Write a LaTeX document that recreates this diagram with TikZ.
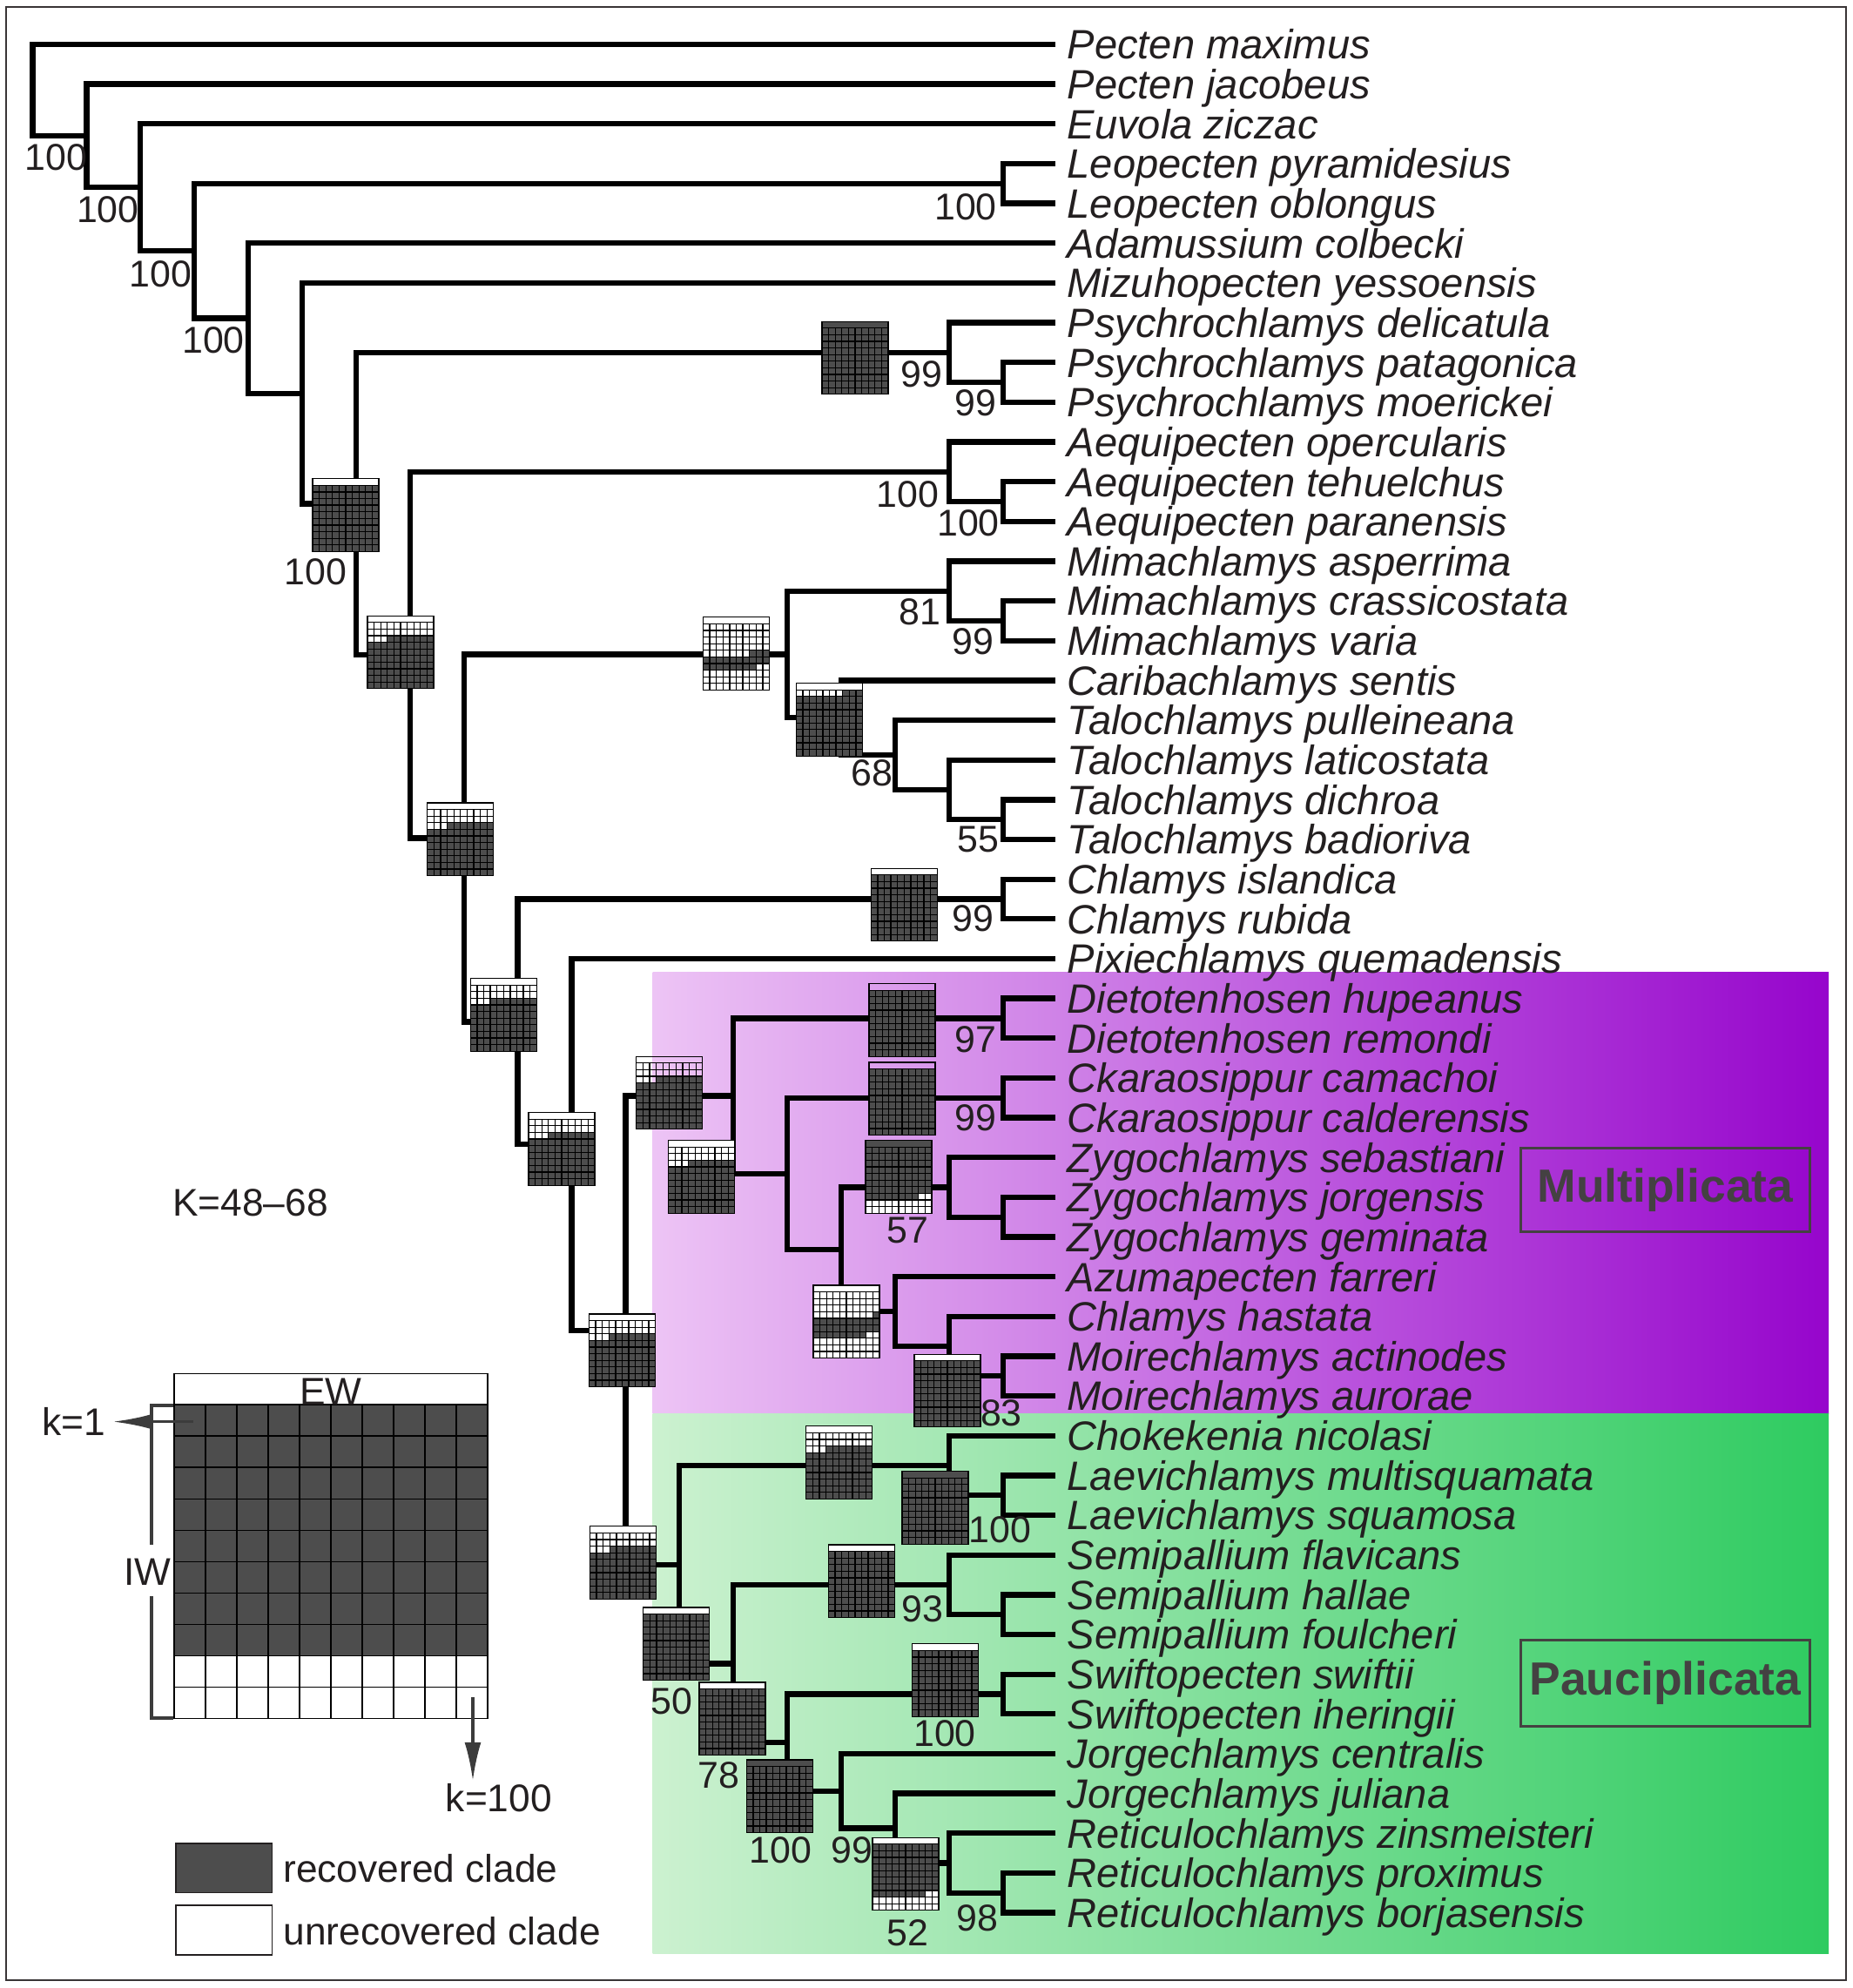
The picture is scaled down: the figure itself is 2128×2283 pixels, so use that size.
\documentclass[tikz,border=0pt]{standalone}
\usepackage{fontspec}
\setmainfont{Liberation Sans}
\usetikzlibrary{arrows.meta}
\definecolor{ink}{HTML}{231F20}
\definecolor{cladedark}{HTML}{4D4D4D}
\definecolor{legendgray}{HTML}{3C3C3C}
\definecolor{multilight}{HTML}{EDC4F5}
\definecolor{multideep}{HTML}{9605CC}
\definecolor{paucilight}{HTML}{CCF1D0}
\definecolor{paucideep}{HTML}{2ECB60}
\tikzset{
  branch/.style={draw=black,line width=1.8pt},
  taxon/.style={anchor=west,inner xsep=1.3mm,inner ysep=0pt,text height=9.6pt,text depth=0pt,text=ink,font=\fontsize{13.4}{13}\selectfont\itshape},
  support/.style={inner sep=0pt,text=ink,font=\fontsize{12.2}{12}\selectfont},
  gridline/.style={draw=black,line width=0.35pt},
  legendgrid/.style={draw=black,line width=0.4pt},
  legendtext/.style={inner sep=0pt,text=ink,font=\fontsize{12.6}{12}\selectfont},
  legendline/.style={draw=legendgray,line width=1.1pt},
  legendarrow/.style={draw=legendgray,fill=legendgray,line width=0.9pt},
  groupbox/.style={draw=ink!85,line width=0.8pt,inner sep=0pt,text=ink!85,minimum width=33.2mm,font=\fontsize{15.2}{15}\selectfont\bfseries},
  swatch/.style={draw=ink,line width=0.5pt,minimum width=11.06mm,minimum height=5.67mm,inner sep=0pt},
}
\newcommand{\cladegrid}[7]{%
  \coordinate (#1) at (#2,#3);
  \path[fill=#7] ({#2-38},{#3-34.2}) rectangle ({#2+38},{#3+41.8});
  \path[fill=#4] ({#2-38},{#3-41.8}) rectangle ({#2+38},{#3-34.2});
  \foreach \cellk in {#5,...,#6}{%
    \pgfmathtruncatemacro{\cellrow}{(\cellk-1)/10}%
    \pgfmathtruncatemacro{\cellcol}{\cellk-1-10*\cellrow}%
    \fill[cladedark] ({#2-38+7.6*\cellcol},{#3-34.2+7.6*\cellrow}) rectangle ++(7.6,7.6);
  }
  \foreach \gi in {1,...,9}{\draw[gridline] ({#2-38+7.6*\gi},{#3-34.2}) -- ++(0,76);}
  \foreach \gi in {1,...,9}{\draw[gridline] ({#2-38},{#3-34.2+7.6*\gi}) -- ++(76,0);}
  \draw[gridline] ({#2-38},{#3-34.2}) -- ++(76,0);
  \draw[gridline] ({#2-38},{#3-41.8}) rectangle ({#2+38},{#3+41.8});
}
\begin{document}
\begin{tikzpicture}[x=0.1mm,y=-0.1mm,>={Latex[length=4.4mm,width=1.7mm]},line join=miter]
\useasboundingbox (0,0) rectangle (2128,2283);
%%
\shade[left color=multilight,right color=multideep] (749.6,1116.4) rectangle (2100,1623);
\shade[left color=paucilight,right color=paucideep] (749.6,1623) rectangle (2100,2243);
\draw[draw=ink!90,line width=0.6pt] (7,8) rectangle (2120,2274);
%
\node[taxon] (t1) at (1212,51) {Pecten maximus};
\node[taxon] (t2) at (1212,96.65) {Pecten jacobeus};
\node[taxon] (t3) at (1212,142.3) {Euvola ziczac};
\node[taxon] (t4) at (1212,187.95) {Leopecten pyramidesius};
\node[taxon] (t5) at (1212,233.6) {Leopecten oblongus};
\node[taxon] (t6) at (1212,279.25) {Adamussium colbecki};
\node[taxon] (t7) at (1212,324.9) {Mizuhopecten yessoensis};
\node[taxon] (t8) at (1212,370.55) {Psychrochlamys delicatula};
\node[taxon] (t9) at (1212,416.2) {Psychrochlamys patagonica};
\node[taxon] (t10) at (1212,461.85) {Psychrochlamys moerickei};
\node[taxon] (t11) at (1212,507.5) {Aequipecten opercularis};
\node[taxon] (t12) at (1212,553.15) {Aequipecten tehuelchus};
\node[taxon] (t13) at (1212,598.8) {Aequipecten paranensis};
\node[taxon] (t14) at (1212,644.45) {Mimachlamys asperrima};
\node[taxon] (t15) at (1212,690.1) {Mimachlamys crassicostata};
\node[taxon] (t16) at (1212,735.75) {Mimachlamys varia};
\node[taxon] (t17) at (1212,781.4) {Caribachlamys sentis};
\node[taxon] (t18) at (1212,827.05) {Talochlamys pulleineana};
\node[taxon] (t19) at (1212,872.7) {Talochlamys laticostata};
\node[taxon] (t20) at (1212,918.35) {Talochlamys dichroa};
\node[taxon] (t21) at (1212,964) {Talochlamys badioriva};
\node[taxon] (t22) at (1212,1009.65) {Chlamys islandica};
\node[taxon] (t23) at (1212,1055.3) {Chlamys rubida};
\node[taxon] (t24) at (1212,1100.95) {Pixiechlamys quemadensis};
\node[taxon] (t25) at (1212,1146.6) {Dietotenhosen hupeanus};
\node[taxon] (t26) at (1212,1192.25) {Dietotenhosen remondi};
\node[taxon] (t27) at (1212,1237.9) {Ckaraosippur camachoi};
\node[taxon] (t28) at (1212,1283.55) {Ckaraosippur calderensis};
\node[taxon] (t29) at (1212,1329.2) {Zygochlamys sebastiani};
\node[taxon] (t30) at (1212,1374.85) {Zygochlamys jorgensis};
\node[taxon] (t31) at (1212,1420.5) {Zygochlamys geminata};
\node[taxon] (t32) at (1212,1466.15) {Azumapecten farreri};
\node[taxon] (t33) at (1212,1511.8) {Chlamys hastata};
\node[taxon] (t34) at (1212,1557.45) {Moirechlamys actinodes};
\node[taxon] (t35) at (1212,1603.1) {Moirechlamys aurorae};
\node[taxon] (t36) at (1212,1648.75) {Chokekenia nicolasi};
\node[taxon] (t37) at (1212,1694.4) {Laevichlamys multisquamata};
\node[taxon] (t38) at (1212,1740.05) {Laevichlamys squamosa};
\node[taxon] (t39) at (1212,1785.7) {Semipallium flavicans};
\node[taxon] (t40) at (1212,1831.35) {Semipallium hallae};
\node[taxon] (t41) at (1212,1877) {Semipallium foulcheri};
\node[taxon] (t42) at (1212,1922.65) {Swiftopecten swiftii};
\node[taxon] (t43) at (1212,1968.3) {Swiftopecten iheringii};
\node[taxon] (t44) at (1212,2013.95) {Jorgechlamys centralis};
\node[taxon] (t45) at (1212,2059.6) {Jorgechlamys juliana};
\node[taxon] (t46) at (1212,2105.25) {Reticulochlamys zinsmeisteri};
\node[taxon] (t47) at (1212,2150.9) {Reticulochlamys proximus};
\node[taxon] (t48) at (1212,2196.55) {Reticulochlamys borjasensis};
%
\coordinate (nA) at (37.5,103.5);
\coordinate (nB) at (99.4,155.9);
\coordinate (nC) at (161.3,215.2);
\coordinate (nD) at (223.2,288.1);
\coordinate (nE) at (285.1,365.5);
\coordinate (nF) at (347,451.7);
\coordinate (nG) at (408.9,578.4);
\coordinate (nH) at (470.8,752.1);
\coordinate (nI) at (532.7,962.4);
\coordinate (nJ) at (594.6,1173.4);
\coordinate (nK) at (656.5,1314.3);
\coordinate (nL) at (718.4,1527.7);
\coordinate (nLeo) at (1151.7,210.8);
\coordinate (nPsy) at (1089.8,404.8);
\coordinate (nPsyB) at (1151.7,439);
\coordinate (nAeq) at (1089.8,541.7);
\coordinate (nAeqB) at (1151.7,576);
\coordinate (nMT) at (904.1,751.4);
\coordinate (nMim) at (1089.8,678.7);
\coordinate (nMimB) at (1151.7,712.9);
\coordinate (nT1) at (966,824.2);
\coordinate (nT2) at (1027.9,867);
\coordinate (nT3) at (1089.8,906.9);
\coordinate (nT4) at (1151.7,941.2);
\coordinate (nChl) at (1151.7,1032.5);
\coordinate (nM1) at (842.2,1258.6);
\coordinate (nDie) at (1151.7,1169.4);
\coordinate (nM2) at (904.1,1347.7);
\coordinate (nCka) at (1151.7,1260.7);
\coordinate (nM3) at (966,1434.8);
\coordinate (nZyg) at (1089.8,1363.4);
\coordinate (nZygB) at (1151.7,1397.7);
\coordinate (nM4) at (1027.9,1506.1);
\coordinate (nM5) at (1089.8,1546);
\coordinate (nMoi) at (1151.7,1580.3);
\coordinate (nP1) at (780.3,1796.8);
\coordinate (nCL) at (1089.8,1683);
\coordinate (nLae) at (1151.7,1717.2);
\coordinate (nP2) at (842.2,1910.5);
\coordinate (nSem) at (1089.8,1819.9);
\coordinate (nSemB) at (1151.7,1854.2);
\coordinate (nP3) at (904.1,2001.1);
\coordinate (nSwi) at (1151.7,1945.5);
\coordinate (nP4) at (966,2056.7);
\coordinate (nP5) at (1027.9,2099.5);
\coordinate (nRet) at (1089.8,2139.5);
\coordinate (nRetB) at (1151.7,2173.7);
%
\draw[branch] (t1.west) -| (nA) |- (nB);
\draw[branch] (t2.west) -| (nB) |- (nC);
\draw[branch] (t3.west) -| (nC) |- (nD);
\draw[branch] (nLeo) -| (nD) |- (nE);
\draw[branch] (t4.west) -| (nLeo) |- (t5.west);
\draw[branch] (t6.west) -| (nE) |- (nF);
\draw[branch] (t7.west) -| (nF) |- (nG);
\draw[branch] (nPsy) -| (nG) |- (nH);
\draw[branch] (t8.west) -| (nPsy) |- (nPsyB);
\draw[branch] (t9.west) -| (nPsyB) |- (t10.west);
\draw[branch] (nAeq) -| (nH) |- (nI);
\draw[branch] (t11.west) -| (nAeq) |- (nAeqB);
\draw[branch] (t12.west) -| (nAeqB) |- (t13.west);
\draw[branch] (nMT) -| (nI) |- (nJ);
\draw[branch] (nMim) -| (nMT) |- (nT1);
\draw[branch] (t14.west) -| (nMim) |- (nMimB);
\draw[branch] (t15.west) -| (nMimB) |- (t16.west);
\draw[branch] (t17.west) -| (nT1) |- (nT2);
\draw[branch] (t18.west) -| (nT2) |- (nT3);
\draw[branch] (t19.west) -| (nT3) |- (nT4);
\draw[branch] (t20.west) -| (nT4) |- (t21.west);
\draw[branch] (nChl) -| (nJ) |- (nK);
\draw[branch] (t22.west) -| (nChl) |- (t23.west);
\draw[branch] (t24.west) -| (nK) |- (nL);
\draw[branch] (nM1) -| (nL) |- (nP1);
\draw[branch] (nDie) -| (nM1) |- (nM2);
\draw[branch] (t25.west) -| (nDie) |- (t26.west);
\draw[branch] (nCka) -| (nM2) |- (nM3);
\draw[branch] (t27.west) -| (nCka) |- (t28.west);
\draw[branch] (nZyg) -| (nM3) |- (nM4);
\draw[branch] (t29.west) -| (nZyg) |- (nZygB);
\draw[branch] (t30.west) -| (nZygB) |- (t31.west);
\draw[branch] (t32.west) -| (nM4) |- (nM5);
\draw[branch] (t33.west) -| (nM5) |- (nMoi);
\draw[branch] (t34.west) -| (nMoi) |- (t35.west);
\draw[branch] (nCL) -| (nP1) |- (nP2);
\draw[branch] (t36.west) -| (nCL) |- (nLae);
\draw[branch] (t37.west) -| (nLae) |- (t38.west);
\draw[branch] (nSem) -| (nP2) |- (nP3);
\draw[branch] (t39.west) -| (nSem) |- (nSemB);
\draw[branch] (t40.west) -| (nSemB) |- (t41.west);
\draw[branch] (nSwi) -| (nP3) |- (nP4);
\draw[branch] (t42.west) -| (nSwi) |- (t43.west);
\draw[branch] (t44.west) -| (nP4) |- (nP5);
\draw[branch] (t45.west) -| (nP5) |- (nRet);
\draw[branch] (t46.west) -| (nRet) |- (nRetB);
\draw[branch] (t47.west) -| (nRetB) |- (t48.west);
%
\cladegrid{gPsy}{982}{411}{cladedark}{1}{100}{white}
\cladegrid{gG}{397}{591.5}{white}{1}{100}{white}
\cladegrid{gH}{460}{749}{white}{24}{100}{white}
\cladegrid{gMT}{845.5}{750.5}{white}{48}{68}{white}
\cladegrid{gT1}{952.5}{826.3}{white}{8}{100}{white}
\cladegrid{gI}{528.8}{963.7}{white}{24}{100}{white}
\cladegrid{gChl}{1038.3}{1039}{white}{1}{100}{white}
\cladegrid{gJ}{578.3}{1165.3}{white}{24}{100}{white}
\cladegrid{gDie}{1036}{1171.3}{none}{1}{100}{white}
\cladegrid{gM1}{768.8}{1255}{none}{24}{100}{none}
\cladegrid{gCka}{1036}{1261.7}{none}{1}{100}{white}
\cladegrid{gM2}{805.8}{1351.3}{white}{24}{100}{white}
\cladegrid{gZyg}{1032}{1351.3}{cladedark}{1}{78}{white}
\cladegrid{gK}{645}{1319.3}{white}{24}{100}{white}
\cladegrid{gM4}{972}{1517.7}{white}{40}{68}{white}
\cladegrid{gL}{714.5}{1550.7}{white}{24}{100}{white}
\cladegrid{gMoi}{1088}{1597}{white}{1}{100}{white}
\cladegrid{gCL}{963.8}{1679.5}{white}{24}{100}{white}
\cladegrid{gLae}{1074}{1731.3}{cladedark}{1}{100}{white}
\cladegrid{gP1}{715.5}{1794.6}{white}{24}{100}{white}
\cladegrid{gSem}{989.5}{1815.8}{white}{1}{100}{white}
\cladegrid{gP2}{776.8}{1887.7}{white}{1}{100}{white}
\cladegrid{gSwi}{1085.5}{1929.5}{white}{1}{100}{white}
\cladegrid{gP3}{841}{1973.8}{white}{1}{100}{white}
\cladegrid{gP4}{895.3}{2062.7}{cladedark}{1}{100}{white}
\cladegrid{gRet}{1040}{2152}{white}{1}{78}{white}
%
\node[support] (s_B) at (64.7,181.2) {100};
\node[support] (s_C) at (123.9,240.6) {100};
\node[support] (s_D) at (184.2,314.3) {100};
\node[support] (s_E) at (245,391) {100};
\node[support] (s_G) at (362.7,657) {100};
\node[support] (s_Leo) at (1109,237.3) {100};
\node[support] (s_Psy) at (1058.2,429.4) {99};
\node[support] (s_PsyB) at (1120.7,462.8) {99};
\node[support] (s_Aeq) at (1042.1,567.6) {100};
\node[support] (s_AeqB) at (1112,601.1) {100};
\node[support] (s_Mim) at (1056.7,703) {81};
\node[support] (s_MimB) at (1117.8,736.5) {99};
\node[support] (s_T2) at (1001.4,887.9) {68};
\node[support] (s_T4) at (1123.7,963.5) {55};
\node[support] (s_Chl) at (1117.8,1055.2) {99};
\node[support] (s_Die) at (1120.7,1193.5) {97};
\node[support] (s_Cka) at (1120.7,1283.7) {99};
\node[support] (s_Zyg) at (1042.1,1413.3) {57};
\node[support] (s_Moi) at (1149.9,1622.9) {83};
\node[support] (s_Lae) at (1148.4,1756.8) {100};
\node[support] (s_Sem) at (1059.5,1848) {93};
\node[support] (s_P2) at (771.2,1953.5) {50};
\node[support] (s_Swi) at (1085,1990.8) {100};
\node[support] (s_P3) at (825.3,2038.5) {78};
\node[support] (s_P4) at (896.6,2125) {100};
\node[support] (s_P5) at (978.1,2125) {99};
\node[support] (s_Ret) at (1042.1,2219.6) {52};
\node[support] (s_RetB) at (1122,2203) {98};
%
\node[groupbox,minimum height=9.6mm] (multi) at (1912.5,1366.8) {Multiplicata};
\node[groupbox,minimum height=9.9mm] (pauci) at (1912.5,1932.9) {Pauciplicata};
\node[legendtext] (kval) at (287.5,1381) {K=48--68};
%
\fill[cladedark] (200,1613) rectangle (560,1901.6);
\foreach \gi in {1,...,9}{\draw[legendgrid] ({200+36*\gi},1613) -- ++(0,360.7);}
\foreach \gi in {1,...,9}{\draw[legendgrid] (200,{1613+36.07*\gi}) -- ++(360,0);}
\draw[legendgrid] (200,1613) -- ++(360,0);
\draw[legendgrid] (200,1577.2) rectangle (560,1973.7);
\node[legendtext] (ewlbl) at (380,1598) {EW};
\node[legendtext] (iw) at (169.3,1804.9) {IW};
\coordinate (iwtop) at (199,1613.9);
\coordinate (iwbot) at (199,1972.9);
\draw[legendline] (iwtop) -- (174,1613.9) -- (174,1774.4);
\draw[legendline] (iwbot) -- (174,1972.9) -- (174,1833.3);
\coordinate (konefrom) at (221.5,1632.6);
\node[legendtext,anchor=east,inner sep=0.8mm] (kone) at (129.6,1632.6) {k=1};
\draw[legendarrow,->] (konefrom) -- (kone);
\coordinate (khundfrom) at (543,1948.9);
\coordinate (khundtip) at (543,2044.8);
\node[legendtext] (khund) at (572.8,2064.5) {k=100};
\draw[legendarrow,->,>={Latex[length=4.4mm,width=1.9mm]}] (khundfrom) -- (khundtip);
\node[swatch,fill=cladedark] (recsw) at (257.3,2145.2) {};
\node[swatch,fill=white] (unrecsw) at (257.3,2216.3) {};
\node[legendtext,anchor=west] (reclbl) at (324.7,2145.2) {recovered clade};
\node[legendtext,anchor=west] (unreclbl) at (324.7,2217.2) {unrecovered clade};
%
\end{tikzpicture}
\end{document}
